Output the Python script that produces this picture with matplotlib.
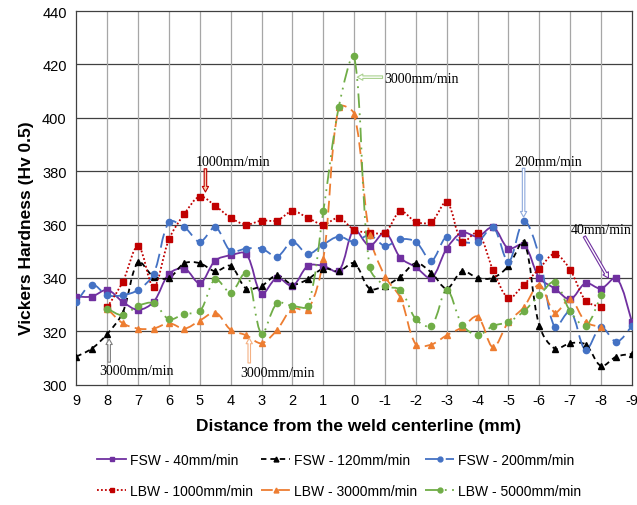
import numpy as np
import matplotlib
matplotlib.use("Agg")
import matplotlib.pyplot as plt
from matplotlib.path import Path
from matplotlib.patches import PathPatch
from matplotlib.lines import Line2D

# positions (mm), 0.5 mm step
x_fsw = np.arange(9, -9.01, -0.5)
x_lbw = np.arange(8, -8.01, -0.5)

fsw_40 = [333, 333, 335.5, 331, 328, 331, 341.5, 343.5, 338, 346.5, 348.5, 349, 334, 340, 337, 344.5, 344.5, 342.5, 358,
          352, 357, 347.5, 344, 340, 351, 357, 355.5, 359, 351, 352.5, 340, 336, 332, 338, 336, 340, 323.5]
fsw_120 = [310.5, 313.5, 319, 327, 346, 340.5, 340, 345.5, 345.5, 342.5, 344.5, 336, 337, 341, 337.5, 339.5, 343.5, 342.5, 345.5,
           336, 337, 340.5, 345.5, 342, 336, 342.5, 340, 340, 344.5, 353.5, 322, 313.5, 315.5, 315, 307, 310.5, 311.5]
fsw_200 = [331, 337.5, 333.5, 333.5, 335.5, 341.5, 361, 359, 353.5, 359, 350, 351, 351, 348, 353.5, 349, 352.5, 355.5, 353.5,
           356, 352, 354.5, 353.5, 346.5, 355.5, 353.5, 353.5, 359, 346, 361.5, 348, 321.5, 327.5, 313, 321.5, 316, 322]
lbw_1000 = [329, 338.5, 352, 336.5, 354.5, 364, 370.5, 367, 362.5, 360, 361.5, 361.5, 365, 362.5, 360, 362.5, 358,
            357, 357, 365, 361, 361, 368.5, 353.5, 357, 343, 332.5, 337.5, 343.5, 349, 343, 331.5, 329]
lbw_3000 = [328.5, 323, 321, 321, 323, 321, 324, 327, 320.5, 318.5, 315.5, 320.5, 328.5, 328, 347, 404, 401.5,
            356, 340.5, 332.5, 315, 315, 318.5, 321.5, 325.5, 314, 323.5, 329, 337.5, 327, 332, 323.5, 321.5]
lbw_5000 = [328.5, 326, 329.5, 330.5, 324.5, 326.5, 327.5, 339.5, 334.5, 342, 319, 330.5, 329.5, 329.5, 365, 404, 423,
            344, 337, 335.5, 324.5, 322, 335.5, 322.5, 318.5, 322, 323.5, 327.5, 333.5, 338.5, 327.5, 322, 333.5]

labels = ["FSW - 40mm/min", "FSW - 120mm/min", "FSW - 200mm/min",
          "LBW - 1000mm/min", "LBW - 3000mm/min", "LBW - 5000mm/min"]
colors = ["#7030A0", "#000000", "#4472C4", "#C00000", "#ED7D31", "#70AD47"]
markers = ["s", "^", "o", "s", "^", "o"]
dashes = ["-", (0, (3, 2.2)), (0, (8, 3.5)), (0, (1, 1.2)), (0, (6.5, 3)), (0, (8, 3, 1, 3, 1, 3))]

series = [(x_fsw, fsw_40), (x_fsw, fsw_120), (x_fsw, fsw_200),
          (x_lbw, lbw_1000), (x_lbw, lbw_3000), (x_lbw, lbw_5000)]

# échelle en pixels (pour le lissage)
sx = 555.5/18
sy = 373.4/140


# courbe lissée type Excel (Bezier, bras pondérés par la longueur des segments)
def smooth_path(x, y):
    x = np.asarray(x, float)
    y = np.asarray(y, float)
    n = len(x)
    d = np.hypot(np.diff(x)*sx, np.diff(y)*sy)
    verts = [(x[0], y[0])]
    codes = [Path.MOVETO]
    for i in range(n-1):
        a = max(i-1, 0)
        b = min(i+2, n-1)
        dp = d[i-1] if i > 0 else d[i]
        dn = d[i+1] if i+2 < n else d[i]
        f1 = d[i]/(dp+d[i])/3
        f2 = d[i]/(d[i]+dn)/3
        c1 = (x[i] + (x[i+1]-x[a])*f1, y[i] + (y[i+1]-y[a])*f1)
        c2 = (x[i+1] - (x[b]-x[i])*f2, y[i+1] - (y[b]-y[i])*f2)
        verts += [c1, c2, (x[i+1], y[i+1])]
        codes += [Path.CURVE4]*3
    return Path(verts, codes)


plt.rcParams['font.family'] = ['Liberation Sans', 'DejaVu Sans']

fig = plt.figure(figsize=(6.37, 5.06), dpi=100)
ax = fig.add_axes([0.120, 0.238, 0.872, 0.738])

handles = []
for (xs, ys), lab, c, m, ls in zip(series, labels, colors, markers, dashes):
    ax.add_patch(PathPatch(smooth_path(xs, ys), fill=False, edgecolor=c, lw=1.3, linestyle=ls, zorder=3))
    ax.plot(xs, ys, ls='none', marker=m, ms=4.5, color=c, zorder=4)
    handles.append(Line2D([], [], color=c, lw=1.3, linestyle=ls, marker=m, ms=3.5))

ax.set_xlim(9, -9)
ax.set_ylim(300, 440)
ax.set_xticks(np.arange(9, -10, -1))
ax.set_xticklabels([str(v) for v in range(9, -10, -1)])
ax.set_yticks(np.arange(300, 441, 20))
ax.tick_params(length=0, labelsize=10.5, pad=7)
ax.tick_params(axis='x', pad=6)
for v in np.arange(320, 440, 20):
    ax.axhline(v, color="#404040", lw=0.9, zorder=1)
for v in range(-8, 9):
    ax.axvline(v, color="#A6A6A6", lw=0.9, zorder=1)
for s in ax.spines.values():
    s.set_color("#404040")
    s.set_linewidth(0.9)

# annotations
ann = [("1000mm/min", 3.93, 383.5, (4.82, 380.9), (4.82, 372.2), "#C00000", "#F8CBAD"),
       ("200mm/min", -6.29, 383.6, (-5.49, 381.1), (-5.49, 362.8), "#8FAADC", "white"),
       ("40mm/min", -8.01, 358.1, (-7.46, 355.5), (-8.24, 339.9), "#7030A0", "white"),
       ("3000mm/min", 7.05, 305.2, (7.94, 308.4), (7.94, 317.1), "#7F7F7F", "white"),
       ("3000mm/min", 2.49, 304.6, (3.40, 308.1), (3.40, 317.4), "#F4B183", "white")]
for txt, tx, ty, tail, tip, ec, fc in ann:
    ax.text(tx, ty, txt, family='Liberation Serif', fontsize=10, ha='center', va='center', zorder=6)
    ax.annotate("", xy=tip, xytext=tail,
                arrowprops=dict(arrowstyle="simple,head_width=0.45,head_length=0.4,tail_width=0.18",
                                fc=fc, ec=ec, lw=0.8, shrinkA=0, shrinkB=0), zorder=6)
ax.text(-0.96, 414.6, "3000mm/min", family='Liberation Serif', fontsize=10, ha='left', va='center', zorder=6)
ax.annotate("", xy=(-0.1, 415.25), xytext=(-0.92, 415.25),
            arrowprops=dict(arrowstyle="simple,head_width=0.45,head_length=0.4,tail_width=0.18",
                            fc="white", ec="#A9D18E", lw=0.8, shrinkA=0, shrinkB=0), zorder=6)

fig.text(26.5/637, 1-228/506, "Vickers Hardness (Hv 0.5)", rotation=90, ha='center', va='center',
         fontsize=12.5, fontweight='bold')
fig.text(358.8/637, 1-426.7/506, "Distance from the weld centerline (mm)", ha='center', va='center',
         fontsize=12.5, fontweight='bold')

order = [0, 3, 1, 4, 2, 5]
fig.legend([handles[i] for i in order], [labels[i] for i in order], ncol=3, loc='center',
           bbox_to_anchor=(0.532, 0.058), frameon=False, fontsize=10, handlelength=2.1,
           handletextpad=0.25, columnspacing=0.6, labelspacing=1.2)

fig.savefig("out.png", dpi=100)
